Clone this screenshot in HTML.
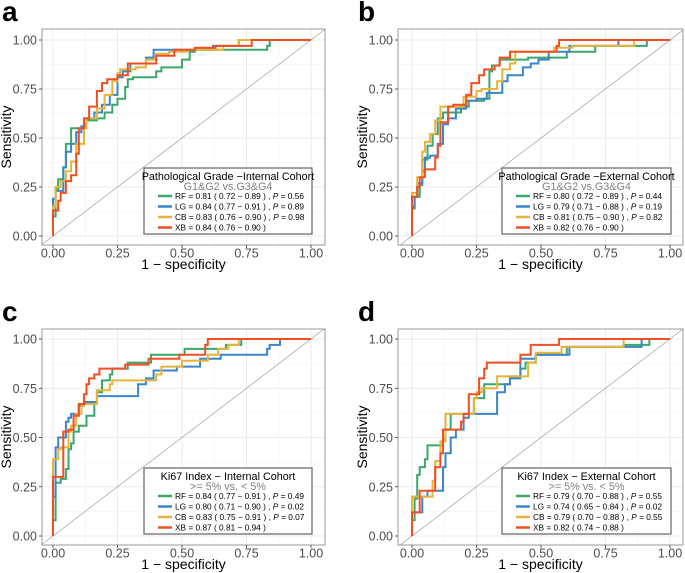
<!DOCTYPE html>
<html><head><meta charset="utf-8"><style>
body{margin:0;background:#fff;}
svg{display:block;font-family:"Liberation Sans",Arial,sans-serif;}
</style></head><body>
<svg id="fig" width="685" height="573" viewBox="0 0 685 573"></svg>
<script>
const ticks = [0, 0.25, 0.5, 0.75, 1];
const tickLabels = ["0.00", "0.25", "0.50", "0.75", "1.00"];
const seriesNames = ["RF", "LG", "CB", "XB"];
const seriesColors = ["#3aa86b", "#3a86c8", "#e6b43a", "#f04e23"];

const aRF = [[0,0],[0,0.05],[0.01,0.1],[0.01,0.21],[0.02,0.24],[0.04,0.29],[0.05,0.35],[0.07,0.47],[0.08,0.55],[0.12,0.55],[0.13,0.57],[0.17,0.59],[0.2,0.6],[0.23,0.63],[0.25,0.67],[0.28,0.7],[0.29,0.76],[0.31,0.8],[0.34,0.81],[0.4,0.81],[0.42,0.84],[0.5,0.86],[0.53,0.9],[0.55,0.94],[0.56,0.95],[0.83,0.95],[0.84,0.97],[0.87,1],[1,1]];
const aLG = [[0,0],[0,0.14],[0.01,0.19],[0.04,0.23],[0.05,0.35],[0.07,0.43],[0.09,0.47],[0.11,0.53],[0.13,0.56],[0.16,0.6],[0.19,0.63],[0.22,0.67],[0.25,0.72],[0.27,0.81],[0.3,0.84],[0.33,0.88],[0.36,0.88],[0.39,0.91],[0.43,0.95],[0.62,0.95],[0.62,0.97],[0.72,0.97],[0.72,1],[1,1]];
const aCB = [[0,0],[0,0.1],[0.01,0.15],[0.03,0.25],[0.05,0.28],[0.07,0.33],[0.09,0.38],[0.1,0.47],[0.12,0.47],[0.13,0.55],[0.17,0.6],[0.2,0.65],[0.23,0.72],[0.25,0.79],[0.26,0.83],[0.28,0.85],[0.32,0.85],[0.36,0.86],[0.4,0.9],[0.45,0.93],[0.52,0.94],[0.53,0.95],[0.66,0.95],[0.66,0.96],[0.72,0.97],[0.73,1],[1,1]];
const aXB = [[0,0],[0,0.1],[0.02,0.13],[0.03,0.18],[0.05,0.22],[0.07,0.28],[0.09,0.31],[0.1,0.42],[0.12,0.55],[0.14,0.6],[0.17,0.66],[0.19,0.74],[0.21,0.78],[0.25,0.8],[0.29,0.82],[0.31,0.88],[0.4,0.88],[0.47,0.92],[0.55,0.95],[0.63,0.96],[0.77,0.97],[0.78,1],[1,1]];

const bRF = [[0,0],[0.01,0.14],[0.03,0.2],[0.04,0.26],[0.06,0.39],[0.08,0.46],[0.1,0.52],[0.12,0.6],[0.14,0.63],[0.19,0.63],[0.22,0.66],[0.28,0.69],[0.3,0.7],[0.31,0.84],[0.34,0.87],[0.39,0.9],[0.45,0.9],[0.6,0.91],[0.71,0.94],[0.72,0.97],[0.91,0.97],[0.92,1],[1,1]];
const bLG = [[0,0],[0.01,0.15],[0.02,0.2],[0.04,0.27],[0.05,0.33],[0.07,0.4],[0.1,0.41],[0.12,0.47],[0.14,0.57],[0.17,0.6],[0.21,0.65],[0.25,0.69],[0.29,0.7],[0.35,0.73],[0.37,0.79],[0.43,0.82],[0.46,0.86],[0.49,0.88],[0.53,0.9],[0.61,0.94],[0.8,0.97],[0.8,1],[1,1]];
const bCB = [[0,0],[0,0.15],[0.02,0.22],[0.04,0.3],[0.05,0.43],[0.07,0.48],[0.09,0.52],[0.11,0.59],[0.13,0.66],[0.2,0.66],[0.25,0.71],[0.27,0.74],[0.33,0.75],[0.35,0.79],[0.38,0.85],[0.4,0.88],[0.43,0.94],[0.55,0.94],[0.62,0.96],[0.86,0.97],[0.86,1],[1,1]];
const bXB = [[0,0],[0,0.15],[0.02,0.2],[0.03,0.25],[0.05,0.3],[0.07,0.34],[0.09,0.34],[0.1,0.4],[0.11,0.46],[0.14,0.58],[0.16,0.66],[0.21,0.67],[0.23,0.72],[0.26,0.78],[0.28,0.82],[0.32,0.85],[0.34,0.87],[0.38,0.91],[0.49,0.94],[0.56,0.94],[0.57,0.97],[0.59,1],[1,1]];

const cRF = [[0,0],[0.01,0.08],[0.01,0.18],[0.03,0.27],[0.05,0.29],[0.06,0.34],[0.07,0.44],[0.08,0.47],[0.1,0.53],[0.13,0.56],[0.16,0.61],[0.17,0.67],[0.19,0.73],[0.22,0.79],[0.23,0.82],[0.29,0.85],[0.38,0.88],[0.42,0.92],[0.51,0.92],[0.6,0.95],[0.67,0.95],[0.67,0.97],[0.73,0.97],[0.74,1],[1,1]];
const cLG = [[0,0],[0.01,0.2],[0.01,0.4],[0.02,0.45],[0.05,0.5],[0.06,0.58],[0.07,0.6],[0.1,0.62],[0.12,0.66],[0.17,0.68],[0.2,0.71],[0.33,0.71],[0.36,0.77],[0.39,0.8],[0.4,0.84],[0.48,0.84],[0.57,0.86],[0.65,0.9],[0.66,0.92],[0.83,0.92],[0.84,0.95],[0.88,0.97],[0.89,1],[1,1]];
const cCB = [[0,0],[0,0.35],[0.02,0.39],[0.03,0.44],[0.06,0.45],[0.07,0.53],[0.09,0.56],[0.11,0.62],[0.12,0.66],[0.17,0.67],[0.17,0.74],[0.22,0.74],[0.23,0.77],[0.28,0.79],[0.4,0.79],[0.42,0.82],[0.5,0.86],[0.6,0.89],[0.64,0.92],[0.68,0.95],[0.72,0.97],[0.72,1],[1,1]];
const cXB = [[0,0],[0,0.27],[0.01,0.3],[0.04,0.3],[0.04,0.5],[0.06,0.53],[0.08,0.54],[0.1,0.61],[0.12,0.67],[0.13,0.72],[0.14,0.77],[0.16,0.8],[0.18,0.82],[0.21,0.85],[0.28,0.85],[0.3,0.87],[0.37,0.87],[0.38,0.9],[0.49,0.9],[0.5,0.92],[0.59,0.92],[0.6,0.97],[0.63,1],[1,1]];

const dRF = [[0,0],[0.01,0.08],[0.02,0.19],[0.03,0.31],[0.05,0.35],[0.06,0.39],[0.07,0.46],[0.12,0.46],[0.13,0.49],[0.15,0.54],[0.18,0.62],[0.24,0.62],[0.26,0.7],[0.28,0.7],[0.3,0.77],[0.38,0.77],[0.38,0.81],[0.42,0.81],[0.44,0.85],[0.48,0.88],[0.52,0.92],[0.6,0.92],[0.62,0.96],[0.82,0.96],[0.92,0.97],[0.93,1],[1,1]];
const dLG = [[0,0],[0.01,0.12],[0.04,0.12],[0.06,0.2],[0.08,0.23],[0.12,0.23],[0.13,0.35],[0.15,0.42],[0.17,0.5],[0.2,0.54],[0.22,0.6],[0.33,0.62],[0.36,0.73],[0.38,0.77],[0.42,0.8],[0.42,0.88],[0.48,0.9],[0.56,0.92],[0.61,0.92],[0.69,0.96],[0.89,0.96],[0.9,1],[1,1]];
const dCB = [[0,0],[0,0.1],[0.02,0.2],[0.08,0.2],[0.09,0.28],[0.11,0.38],[0.13,0.48],[0.14,0.62],[0.24,0.62],[0.25,0.7],[0.27,0.73],[0.33,0.75],[0.37,0.81],[0.45,0.81],[0.48,0.88],[0.5,0.93],[0.58,0.93],[0.6,0.96],[0.82,0.96],[0.83,1],[1,1]];
const dXB = [[0,0],[0,0.12],[0.03,0.12],[0.03,0.19],[0.05,0.23],[0.09,0.23],[0.11,0.35],[0.12,0.42],[0.13,0.54],[0.19,0.54],[0.2,0.58],[0.22,0.62],[0.26,0.72],[0.28,0.8],[0.29,0.85],[0.33,0.88],[0.42,0.88],[0.42,0.92],[0.46,0.92],[0.52,0.97],[0.57,0.97],[0.57,1],[1,1]];

const legendTitles = ["Pathological Grade \u2212Internal Cohort","Pathological Grade \u2212External Cohort","Ki67 Index \u2212 Internal Cohort","Ki67 Index \u2212 External Cohort"];
const legendSubs = ["G1&G2 vs.G3&G4","G1&G2 vs.G3&G4",">= 5% vs. < 5%",">= 5% vs. < 5%"];
const legendA = ["RF = 0.81 ( 0.72 \u2212 0.89 ) ,  P = 0.56","LG = 0.84 ( 0.77 \u2212 0.91 ) ,  P = 0.89","CB = 0.83 ( 0.76 \u2212 0.90 ) ,  P = 0.98","XB = 0.84 ( 0.76 \u2212 0.90 )"];
const legendB = ["RF = 0.80 ( 0.72 \u2212 0.89 ) ,  P = 0.44","LG = 0.79 ( 0.71 \u2212 0.88 ) ,  P = 0.19","CB = 0.81 ( 0.75 \u2212 0.90 ) ,  P = 0.82","XB = 0.82 ( 0.76 \u2212 0.90 )"];
const legendC = ["RF = 0.84 ( 0.77 \u2212 0.91 ) ,  P = 0.49","LG = 0.80 ( 0.71 \u2212 0.90 ) ,  P = 0.02","CB = 0.83 ( 0.75 \u2212 0.91 ) ,  P = 0.07","XB = 0.87 ( 0.81 \u2212 0.94 )"];
const legendD = ["RF = 0.79 ( 0.70 \u2212 0.88 ) ,  P = 0.55","LG = 0.74 ( 0.65 \u2212 0.84 ) ,  P = 0.02","CB = 0.79 ( 0.70 \u2212 0.88 ) ,  P = 0.55","XB = 0.82 ( 0.74 \u2212 0.88 )"];

const panels = [
 {id:"a",letter:"a",box:[42,29,325,245],x0:53,x1:311,y0:236,y1:40,leg:[144,168,312,234],data:[aRF,aLG,aCB,aXB],lt:legendA},
 {id:"b",letter:"b",box:[398,29,683,245],x0:412,x1:670,y0:236,y1:40,leg:[502,168,671,234],data:[bRF,bLG,bCB,bXB],lt:legendB},
 {id:"c",letter:"c",box:[42,329,325,545],x0:53,x1:311,y0:536,y1:339,leg:[144,468,312,534],data:[cRF,cLG,cCB,cXB],lt:legendC},
 {id:"d",letter:"d",box:[398,329,683,545],x0:412,x1:670,y0:536,y1:339,leg:[502,468,671,534],data:[dRF,dLG,dCB,dXB],lt:legendD}
];

const NS = "http://www.w3.org/2000/svg";
const svg = document.getElementById("fig");
function mk(tag, attrs, parent, text){
  const e = document.createElementNS(NS, tag);
  for (const k in attrs) e.setAttribute(k, attrs[k]);
  if (text !== undefined) e.textContent = text;
  parent.appendChild(e);
  return e;
}

panels.forEach((p, pi) => {
  const sx = v => p.x0 + v * (p.x1 - p.x0);
  const sy = v => p.y0 + v * (p.y1 - p.y0);
  const g = mk("g", {}, svg);
  
  
  const [bx0, by0, bx1, by1] = p.box;
  const clipId = "clip" + p.id;
  const cp = mk("clipPath", {id: clipId}, g);
  mk("rect", {x: bx0, y: by0, width: bx1 - bx0, height: by1 - by0}, cp);

  for (let i = 0; i < 4; i++) {
    const v = (ticks[i] + ticks[i+1]) / 2;
    mk("line", {x1: sx(v), x2: sx(v), y1: by0, y2: by1, stroke: "#f2f2f2", "stroke-width": 0.6}, g);
    mk("line", {x1: bx0, x2: bx1, y1: sy(v), y2: sy(v), stroke: "#f2f2f2", "stroke-width": 0.6}, g);
  }
  ticks.forEach(v => {
    mk("line", {x1: sx(v), x2: sx(v), y1: by0, y2: by1, stroke: "#ebebeb", "stroke-width": 1}, g);
    mk("line", {x1: bx0, x2: bx1, y1: sy(v), y2: sy(v), stroke: "#ebebeb", "stroke-width": 1}, g);
  });
  const diag = mk("line", {x1: sx(-0.1), y1: sy(-0.1), x2: sx(1.1), y2: sy(1.1), stroke: "#a0a0a0", "stroke-width": 0.7, "clip-path": "url(#" + clipId + ")"}, g);
  
  

  p.data.forEach((pts, si) => {
    let d = "M" + sx(pts[0][0]).toFixed(1) + " " + sy(pts[0][1]).toFixed(1);
    for (let k = 1; k < pts.length; k++) {
      d += " V" + sy(pts[k][1]).toFixed(1) + " H" + sx(pts[k][0]).toFixed(1);
    }
    const path = mk("path", {d: d, fill: "none", stroke: seriesColors[si], "stroke-width": 2, "stroke-linejoin": "miter", "clip-path": "url(#" + clipId + ")"}, g);
    
    
  });

  mk("rect", {x: bx0, y: by0, width: bx1 - bx0, height: by1 - by0, fill: "none", stroke: "#9a9a9a", "stroke-width": 1}, g);

  ticks.forEach((v, i) => {
    mk("line", {x1: sx(v), x2: sx(v), y1: by1, y2: by1 + 3, stroke: "#333", "stroke-width": 0.8}, g);
    mk("line", {x1: bx0 - 3, x2: bx0, y1: sy(v), y2: sy(v), stroke: "#333", "stroke-width": 0.8}, g);
    const tx = mk("text", {x: sx(v), y: by1 + 12.5, "text-anchor": "middle", "font-size": 12.5, fill: "#4d4d4d"}, g, tickLabels[i]);
    
    
    const ty = mk("text", {x: bx0 - 5, y: sy(v) + 4.5, "text-anchor": "end", "font-size": 12.5, fill: "#4d4d4d"}, g, tickLabels[i]);
    
    
  });
  const xt = mk("text", {x: (bx0 + bx1) / 2, y: by1 + 24, "text-anchor": "middle", "font-size": 14, fill: "#000"}, g, "1 \u2212 specificity");
  
  
  const ycx = bx0 - 31, ycy = (by0 + by1) / 2;
  const yt = mk("text", {x: ycx, y: ycy, "text-anchor": "middle", "font-size": 14, fill: "#000", transform: "rotate(-90 " + ycx + " " + ycy + ")"}, g, "Sensitivity");
  
  
  const lt = mk("text", {x: bx0 - 40, y: by0 - 8, "font-size": 28, "font-weight": "bold", fill: "#000"}, g, p.letter);
  
  

  const [lx0, ly0, lx1, ly1] = p.leg;
  const lg = mk("g", {}, g);
  
  
  mk("rect", {x: lx0, y: ly0, width: lx1 - lx0, height: ly1 - ly0, fill: "#fff", stroke: "#6e6e6e", "stroke-width": 1.3}, lg);
  const lcx = (lx0 + lx1) / 2;
  const t1 = mk("text", {x: lcx, y: ly0 + 12, "text-anchor": "middle", "font-size": 10.8, fill: "#000"}, lg, legendTitles[pi]);
  
  
  const t2 = mk("text", {x: lcx, y: ly0 + 22, "text-anchor": "middle", "font-size": 10.8, fill: "#808080"}, lg, legendSubs[pi]);
  
  
  p.lt.forEach((s, si) => {
    const yy = ly0 + 28 + si * 10.5;
    const entry = mk("g", {}, lg);
    
    
    mk("line", {x1: lx0 + 14, x2: lx0 + 28, y1: yy, y2: yy, stroke: seriesColors[si], "stroke-width": 2.5}, entry);
    const parts = s.split("P = ");
    const tt = mk("text", {x: lx0 + 31, y: yy + 3, "font-size": 8.3, fill: "#000", "xml:space": "preserve"}, entry);
    mk("tspan", {}, tt, parts[0]);
    if (parts.length > 1) {
      mk("tspan", {"font-style": "italic"}, tt, "P");
      mk("tspan", {}, tt, " = " + parts[1]);
    }
  });
});
</script>
</body></html>
